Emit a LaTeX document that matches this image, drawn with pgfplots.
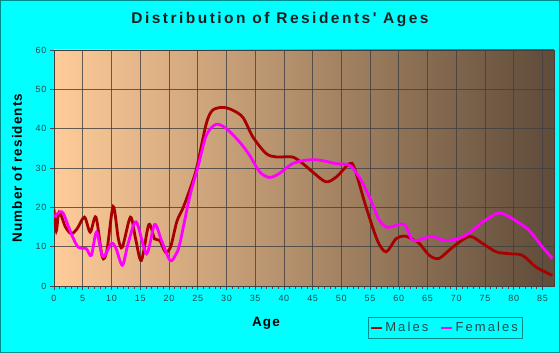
\documentclass[border=0pt]{standalone}
\usepackage{pgfplots}
\pgfplotsset{compat=1.18}
\usepackage{fontspec}
\setmainfont{Liberation Sans}
\newfontfamily\spacedA[LetterSpace=16]{Liberation Sans}
\newfontfamily\spacedB[LetterSpace=8]{Liberation Sans}
\definecolor{bgcyan}{HTML}{00FFFF}
\definecolor{framec}{HTML}{008B8B}
\definecolor{males}{HTML}{A80000}
\definecolor{females}{HTML}{FF00FF}
\definecolor{ticktxt}{HTML}{1F4A4A}
\definecolor{bgleft}{HTML}{FFCC99}
\definecolor{bgright}{HTML}{5E4B39}
\begin{document}
\begin{tikzpicture}[x=1pt,y=1pt]
\fill[bgcyan] (0,0) rectangle (560,353);
\draw[framec, line width=1pt] (0.5,0.5) rectangle (559.5,352.5);
\begin{axis}[
  at={(54pt,67pt)}, anchor=south west,
  width=500pt, height=236pt, scale only axis,
  xmin=0, xmax=87, ymin=0, ymax=60,
  xtick={0,5,...,85}, ytick={0,10,...,60},
  minor x tick num=4,
  xtick pos=left, ytick pos=left,
  tick align=outside,
  major tick length=4pt, minor tick length=3pt,
  every tick/.style={black!70, line width=0.6pt},
  grid=major,
  major grid style={black!75, line width=0.7pt, opacity=0.8},
  axis line style={black!75, line width=0.8pt},
  axis background/.style={left color=bgleft, right color=bgright},
  /pgf/number format/assume math mode=true,
  tick label style={font=\fontsize{9}{10}\selectfont\spacedB, text=ticktxt},
  xticklabel style={yshift=-2pt},
  xlabel={Age},
  ylabel={Number of residents},
  label style={font=\fontsize{13.5}{15}\selectfont\spacedB\bfseries, text=black},
  xlabel style={at={(axis description cs:0.424,-0.157)}, anchor=center},
  ylabel style={at={(axis description cs:-0.074,0.5)}, anchor=center},
  legend style={at={(0.782,-0.178)}, anchor=center, legend columns=2,
    draw=framec, fill=none, font=\fontsize{13}{15}\selectfont\spacedA, text=ticktxt,
    inner xsep=2pt, inner ysep=3pt,
    /tikz/every even column/.append style={column sep=10pt}},
  legend image code/.code={\draw[#1, line width=2.2pt] (0,0) -- (11pt,0);},
]
\addplot[males, line width=2.8pt, smooth, tension=0.5] coordinates {
(0,19.5) (0.4,14) (0.9,18.8) (2,15) (3,13.3) (4,14.5) (5.3,17.5) (6.3,13.7)
(7.3,17.5) (8.4,7.4) (9.2,9) (10.3,20.2) (11.2,12) (11.9,9.9) (13.3,17.5)
(14.2,12) (15.2,6.5) (16.5,15.6) (17.5,12) (18.4,11.6) (19.4,8.6) (20.3,10)
(21.4,16.5) (22.5,20) (24.2,26.9) (25,31.1) (26.5,41.3) (27.6,44.7) (29.4,45.4)
(31.1,44.7) (32.9,42.8) (34.6,37.9) (36.9,33.7) (38.7,32.8) (41.5,32.8)
(43.3,31.1) (45,29) (47.3,26.5) (49.1,27.7) (51.4,31.1) (52.3,29.9) (54.3,20.1)
(56.3,11.5) (57.8,8.7) (59.5,12) (61,12.7) (62.5,11.8) (63.6,10.8) (65.3,7.8)
(67,7) (69.4,9.9) (72.3,12.6) (74.6,10.8) (76.9,8.7) (79.2,8.2) (81.5,7.8)
(83.9,4.8) (86.7,2.7)
};
\addlegendentry{Males}
\addplot[females, line width=2.8pt, smooth, tension=0.5] coordinates {
(0,17.5) (0.8,18.6) (1.6,18.5) (3,13.3) (4.2,9.9) (5.6,9.5) (6.5,7.8) (7.4,13.7)
(8.5,7.5) (10,10.8) (10.8,9.5) (11.9,5.3) (12.9,10.8) (14.3,16.3) (16.1,8.2)
(17.5,15.6) (18.7,11.6) (20.2,6.5) (21.2,8) (21.9,10.8) (23.6,22.6) (25,30)
(26.5,38.3) (28.2,41.1) (30,40) (32.3,36.6) (34,33.3) (35.8,29) (37.5,27.6)
(39.2,28.6) (41.5,31.1) (43.9,32) (46.2,32) (49.1,31.1) (51.4,30.7) (53.1,27.7)
(54.9,22.6) (56.6,16.7) (58.1,14.9) (60.9,15.7) (62.5,11.6) (65.6,12.6)
(67.9,11.6) (70.2,12) (72.3,13.5) (74.6,16.3) (77.4,18.6) (79.8,17.1)
(82.6,14.2) (85,9.9) (86.7,7)
};
\addlegendentry{Females}
\end{axis}
\node[font=\fontsize{15.5}{17}\selectfont\spacedA\bfseries, text=black!88] at (280,333) {Distribution of Residents' Ages};
\end{tikzpicture}
\end{document}
